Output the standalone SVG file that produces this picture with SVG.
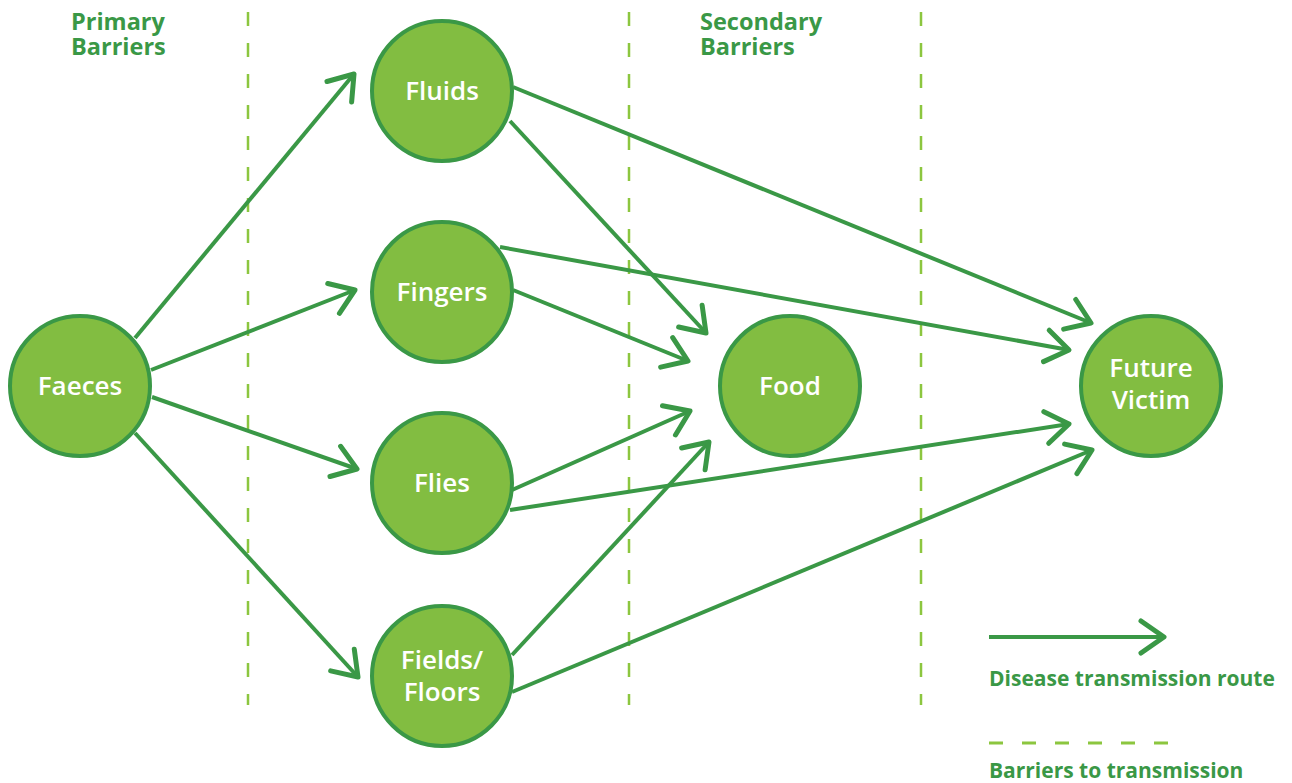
<svg xmlns="http://www.w3.org/2000/svg" width="1292" height="783" viewBox="0 0 1292 783">
<style>
.bar{stroke:#8cc63f;stroke-width:2.5;stroke-dasharray:14 17;fill:none}
.node circle{fill:#82bd41;stroke:#3a9846;stroke-width:4}
.node text{fill:#fff;font-family:"Open Sans",sans-serif;font-weight:600;font-size:26px;text-anchor:middle}
.edge{stroke:#3a9846;stroke-width:4;fill:none;marker-end:url(#chev)}
.hdr{fill:#3a9846;font-family:"Open Sans",sans-serif;font-weight:700;font-size:23.5px}
.leg{fill:#3a9846;font-family:"Open Sans",sans-serif;font-weight:700;font-size:21px}
</style>
<defs>
<marker id="chev" markerUnits="userSpaceOnUse" viewBox="-30 -20 40 40" markerWidth="40" markerHeight="40" refX="0" refY="0" orient="auto">
<path d="M-23,-16 L0,0 L-23,16" fill="none" stroke="#3a9846" stroke-width="5" stroke-linecap="round" stroke-linejoin="round"/>
</marker>
</defs>
<rect width="1292" height="783" fill="#fff"/>
<g id="barriers">
<line class="bar" x1="248" y1="12" x2="248" y2="705"/>
<line class="bar" x1="629" y1="12" x2="629" y2="705"/>
<line class="bar" x1="921" y1="12" x2="921" y2="705"/>
</g>
<g id="headers">
<text class="hdr" x="71" y="30">Primary<tspan x="71" y="55">Barriers</tspan></text>
<text class="hdr" x="700" y="30">Secondary<tspan x="700" y="55">Barriers</tspan></text>
</g>
<g id="connectors">
<line class="edge" x1="135" y1="338" x2="354" y2="74"/>
<line class="edge" x1="151" y1="370" x2="355" y2="290"/>
<line class="edge" x1="152" y1="397" x2="357" y2="469"/>
<line class="edge" x1="135" y1="433" x2="358" y2="677"/>
<line class="edge" x1="510" y1="121" x2="706" y2="333"/>
<line class="edge" x1="513" y1="87" x2="1091" y2="323"/>
<line class="edge" x1="500" y1="247" x2="1069" y2="350"/>
<line class="edge" x1="513" y1="290" x2="688" y2="361"/>
<line class="edge" x1="512" y1="490" x2="690" y2="411"/>
<line class="edge" x1="510" y1="510" x2="1069" y2="424"/>
<line class="edge" x1="512" y1="655" x2="709" y2="442"/>
<line class="edge" x1="512" y1="692" x2="1092" y2="450"/>
</g>
<g id="faeces" class="node"><circle cx="80" cy="386" r="70"/><text x="80" y="395">Faeces</text></g>
<g id="fluids" class="node"><circle cx="442" cy="91" r="70"/><text x="442" y="100">Fluids</text></g>
<g id="fingers" class="node"><circle cx="442" cy="292" r="70"/><text x="442" y="301">Fingers</text></g>
<g id="flies" class="node"><circle cx="442" cy="483" r="70"/><text x="442" y="492">Flies</text></g>
<g id="fields" class="node"><circle cx="442" cy="676" r="70"/><text x="442" y="669">Fields/<tspan x="442" y="701">Floors</tspan></text></g>
<g id="food" class="node"><circle cx="790" cy="386" r="70"/><text x="790" y="395">Food</text></g>
<g id="victim" class="node"><circle cx="1151" cy="386" r="70"/><text x="1151" y="377">Future<tspan x="1151" y="409">Victim</tspan></text></g>
<g id="legend">
<line class="edge" x1="989" y1="637" x2="1164" y2="637"/>
<text class="leg" x="989" y="686">Disease transmission route</text>
<line x1="989" y1="743" x2="1168" y2="743" stroke="#8cc63f" stroke-width="3" stroke-dasharray="14 19"/>
<text class="leg" x="989" y="778">Barriers to transmission</text>
</g>
</svg>
